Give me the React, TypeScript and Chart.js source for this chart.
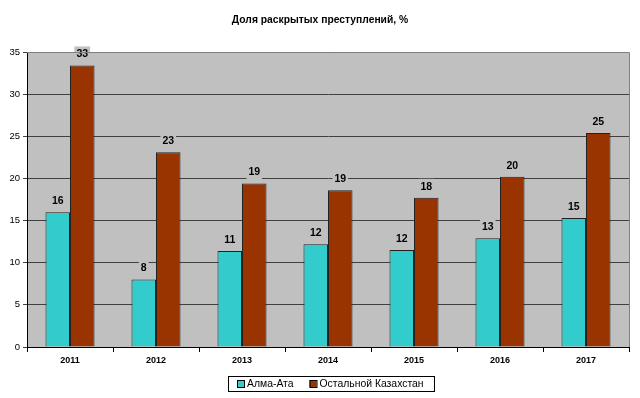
import React, { useEffect, useRef } from "react";
import { Chart, registerables } from "chart.js";

Chart.register(...registerables);

const years = ["2011", "2012", "2013", "2014", "2015", "2016", "2017"];
const almaty = [16.0, 8.0, 11.4, 12.2, 11.5, 12.9, 15.3];
const restKz = [33.4, 23.1, 19.4, 18.6, 17.7, 20.2, 25.4];
const seriesNames = ["Алма-Ата", "Остальной Казахстан"];
const titleText = "Доля раскрытых преступлений, %";
const yMax = 35;
const yStep = 5;

const FONT = "'Liberation Sans', Arial, sans-serif";
const COLORS = ["#33CCCC", "#993300"];

const bgPlugin = {
  id: "plotBg",
  beforeDraw(chart: any) {
    const { ctx, chartArea: a } = chart;
    ctx.save();
    ctx.fillStyle = "#ffffff";
    ctx.fillRect(0, 0, chart.width, chart.height);
    ctx.fillStyle = "#C0C0C0";
    ctx.fillRect(a.left, a.top, a.right - a.left, a.bottom - a.top);
    ctx.restore();
  },
  afterDraw(chart: any) {
    const { ctx, chartArea: a } = chart;
    ctx.save();
    // plot border top/right
    ctx.strokeStyle = "#808080";
    ctx.lineWidth = 1;
    ctx.beginPath();
    ctx.moveTo(a.left, a.top + 0.5);
    ctx.lineTo(a.right + 0.5, a.top + 0.5);
    ctx.lineTo(a.right + 0.5, a.bottom);
    ctx.stroke();
    // title
    ctx.fillStyle = "#000";
    ctx.font = `bold 10.3px ${FONT}`;
    ctx.textAlign = "center";
    ctx.textBaseline = "middle";
    ctx.fillText(titleText, 320, 20);
    // legend
    const lx = 228, ly = 376, lw = 206, lh = 15;
    ctx.strokeStyle = "#000";
    ctx.strokeRect(lx + 0.5, ly + 0.5, lw, lh);
    ctx.font = `10.4px ${FONT}`;
    ctx.textAlign = "left";
    let x = lx + 9;
    const cy = ly + lh / 2 + 0.5;
    seriesNames.forEach((name, i) => {
      ctx.fillStyle = COLORS[i];
      ctx.fillRect(x, cy - 4, 7, 7);
      ctx.strokeStyle = "#000";
      ctx.strokeRect(x + 0.5, cy - 3.5, 7, 7);
      ctx.fillStyle = "#000";
      ctx.fillText(name, x + 10, cy);
      x += 10 + ctx.measureText(name).width + 16;
    });
    ctx.restore();
  },
  afterDatasetsDraw(chart: any) {
    const { ctx } = chart;
    ctx.save();
    ctx.font = `bold 10.5px ${FONT}`;
    ctx.textAlign = "center";
    ctx.textBaseline = "middle";
    chart.data.datasets.forEach((ds: any, di: number) => {
      const meta = chart.getDatasetMeta(di);
      meta.data.forEach((bar: any, i: number) => {
        const txt = String(Math.round(ds.data[i]));
        const cy = bar.y - 11;
        const w = ctx.measureText(txt).width + 4;
        ctx.fillStyle = "#C0C0C0";
        ctx.fillRect(bar.x - w / 2, cy - 8, w, 16);
        ctx.fillStyle = "#000";
        ctx.fillText(txt, bar.x, cy);
      });
    });
    ctx.restore();
  },
};

export default function App() {
  const ref = useRef<HTMLCanvasElement>(null);
  useEffect(() => {
    const chart = new Chart(ref.current!, {
      type: "bar",
      data: {
        labels: years,
        datasets: [
          {
            label: seriesNames[0],
            data: almaty,
            backgroundColor: COLORS[0],
            borderColor: "#222",
            borderWidth: 1,
          },
          {
            label: seriesNames[1],
            data: restKz,
            backgroundColor: COLORS[1],
            borderColor: "#222",
            borderWidth: 1,
          },
        ],
      },
      options: {
        responsive: false,
        animation: false,
        layout: { padding: { top: 52, right: 11, left: 0, bottom: 0 } },
        datasets: { bar: { categoryPercentage: 0.57, barPercentage: 1 } } as any,
        plugins: {
          legend: { display: false },
          title: { display: false },
          tooltip: { enabled: false },
        },
        scales: {
          x: {
            offset: true,
            grid: {
              offset: true,
              drawOnChartArea: false,
              drawTicks: true,
              tickLength: 5,
              color: "#000",
            },
            border: { color: "#000" },
            ticks: {
              color: "#000",
              font: { family: FONT, size: 9, weight: "bold" },
              padding: 3,
            },
            afterFit(scale: any) {
              scale.height = 51;
            },
          },
          y: {
            min: 0,
            max: yMax,
            ticks: {
              stepSize: yStep,
              color: "#000",
              font: { family: FONT, size: 9.5 },
              padding: 3,
            },
            grid: { color: "#404040", tickLength: 4, drawTicks: true },
            border: { color: "#000" },
            afterFit(scale: any) {
              scale.width = 27;
            },
          },
        },
      },
      plugins: [bgPlugin],
    });
    return () => chart.destroy();
  }, []);
  return (
    <div style={{ position: "fixed", left: 0, top: 0, width: 640, height: 398, background: "#fff" }}>
      <canvas ref={ref} width={640} height={398} />
    </div>
  );
}
